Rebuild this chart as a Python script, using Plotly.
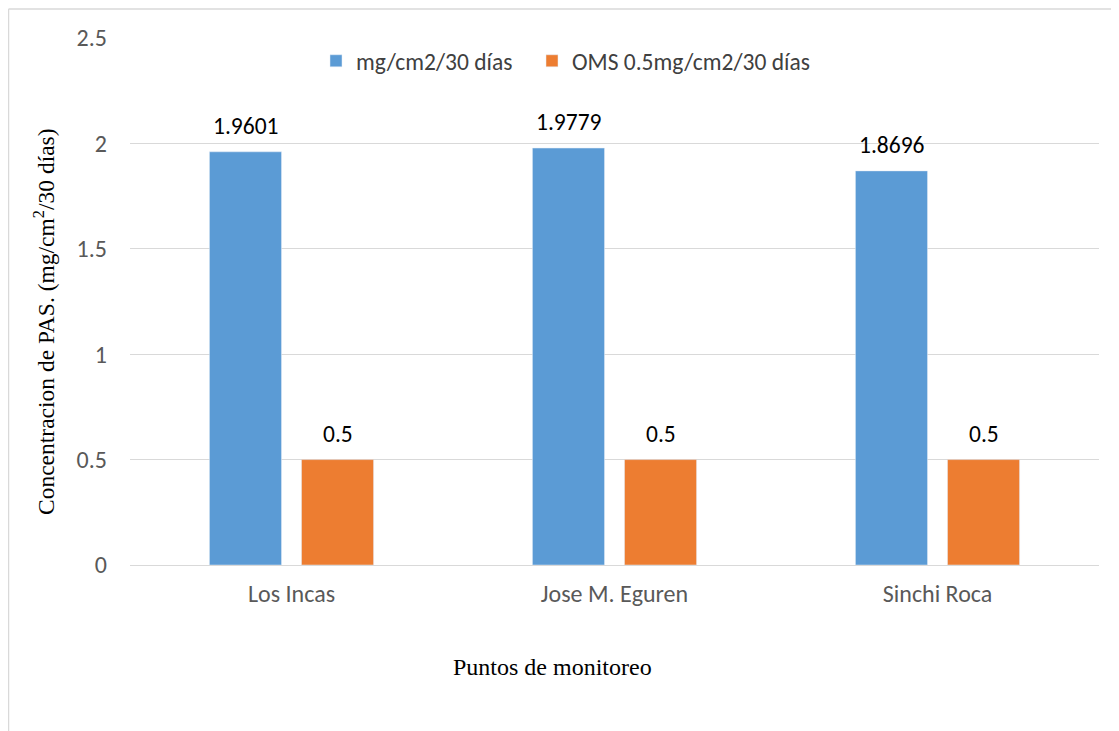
import plotly.graph_objects as go

categories = ["Los Incas", "Jose M. Eguren", "Sinchi Roca"]
series_names = ["mg/cm2/30 días", "OMS 0.5mg/cm2/30 días"]
values_measured = [1.9601, 1.9779, 1.8696]
values_oms = [0.5, 0.5, 0.5]
labels_measured = ["1.9601", "1.9779", "1.8696"]
labels_oms = ["0.5", "0.5", "0.5"]
y_ticks = [0, 0.5, 1, 1.5, 2, 2.5]
y_ticklabels = ["0", "0.5", "1", "1.5", "2", "2.5"]

OFF = 8  # page body margin
W, H = 1119 - OFF, 731 - OFF
ML, MR, MT, MB = 130 - OFF, 20, 38 - OFF, 166
PW = W - ML - MR
PH = H - MT - MB

SANS = "Carlito, Lato, 'Open Sans', sans-serif"
SERIF = "'Liberation Serif', 'Times New Roman', serif"
tick_font = dict(family=SANS, size=24, color="#595959")
label_font = dict(family=SANS, size=23.5, color="#000000")
legend_font = dict(family=SANS, size=23.5, color="#404040")

fig = go.Figure()
fig.add_trace(go.Bar(
    x=categories, y=values_measured, name=series_names[0],
    marker=dict(color="#5B9BD5"), legend="legend",
))
fig.add_trace(go.Bar(
    x=categories, y=values_oms, name=series_names[1],
    marker=dict(color="#ED7D31"), legend="legend2",
))

def px_x(p):  # image pixel -> paper x
    return (p - OFF - ML) / PW

def px_y(p):  # image pixel -> paper y
    return (H - MB - (p - OFF)) / PH

# data labels above bars
BAR_SHIFT = 46
annotations = []
for series, labels, shift in ((values_measured, labels_measured, -BAR_SHIFT),
                              (values_oms, labels_oms, BAR_SHIFT)):
    for c, v, t in zip(categories, series, labels):
        annotations.append(dict(
            x=c, y=v, xref="x", yref="y", text=t, showarrow=False,
            xanchor="center", yanchor="bottom", xshift=shift, yshift=10,
            font=label_font,
        ))

annotations += [
    dict(text="Puntos de monitoreo", xref="paper", yref="paper",
         x=px_x(552), y=px_y(667), xanchor="center", yanchor="middle",
         showarrow=False, font=dict(family=SERIF, size=24, color="#000000")),
    dict(text="Concentracion de PAS. (mg/cm<sup>2</sup>/30 días)", xref="paper", yref="paper",
         x=px_x(44), y=px_y(322), xanchor="center", yanchor="middle", textangle=-90,
         showarrow=False, font=dict(family=SERIF, size=23.5, color="#000000")),
]

legend_common = dict(orientation="h", xanchor="left", yanchor="middle", y=px_y(61),
                     font=legend_font, bgcolor="rgba(0,0,0,0)", itemwidth=30)

fig.update_layout(
    width=W, height=H,
    margin=dict(l=ML, r=MR, t=MT, b=MB, autoexpand=False),
    paper_bgcolor="white", plot_bgcolor="white",
    barmode="group", bargap=0.43, bargroupgap=0.217,
    showlegend=True,
    legend=dict(x=px_x(316), **legend_common),
    legend2=dict(x=px_x(532), **legend_common),
    xaxis=dict(
        showgrid=False, showline=False, ticks="", tickfont=tick_font,
        ticklabelstandoff=12,
    ),
    yaxis=dict(
        range=[0, 2.5], tickvals=y_ticks, ticktext=y_ticklabels,
        showgrid=True, gridcolor="#D9D9D9", gridwidth=1,
        zeroline=True, zerolinecolor="#D9D9D9", zerolinewidth=1,
        showline=False, ticks="", tickfont=tick_font, ticklabelstandoff=22,
    ),
    shapes=[
        dict(type="line", xref="paper", yref="paper",
             x0=px_x(8.5), x1=px_x(1130), y0=px_y(9), y1=px_y(9),
             line=dict(color="#D9D9D9", width=1.5)),
        dict(type="line", xref="paper", yref="paper",
             x0=px_x(8.5), x1=px_x(8.5), y0=px_y(9), y1=px_y(740),
             line=dict(color="#D9D9D9", width=1.5)),
    ],
    annotations=annotations,
)

fig.write_html("out.html")
